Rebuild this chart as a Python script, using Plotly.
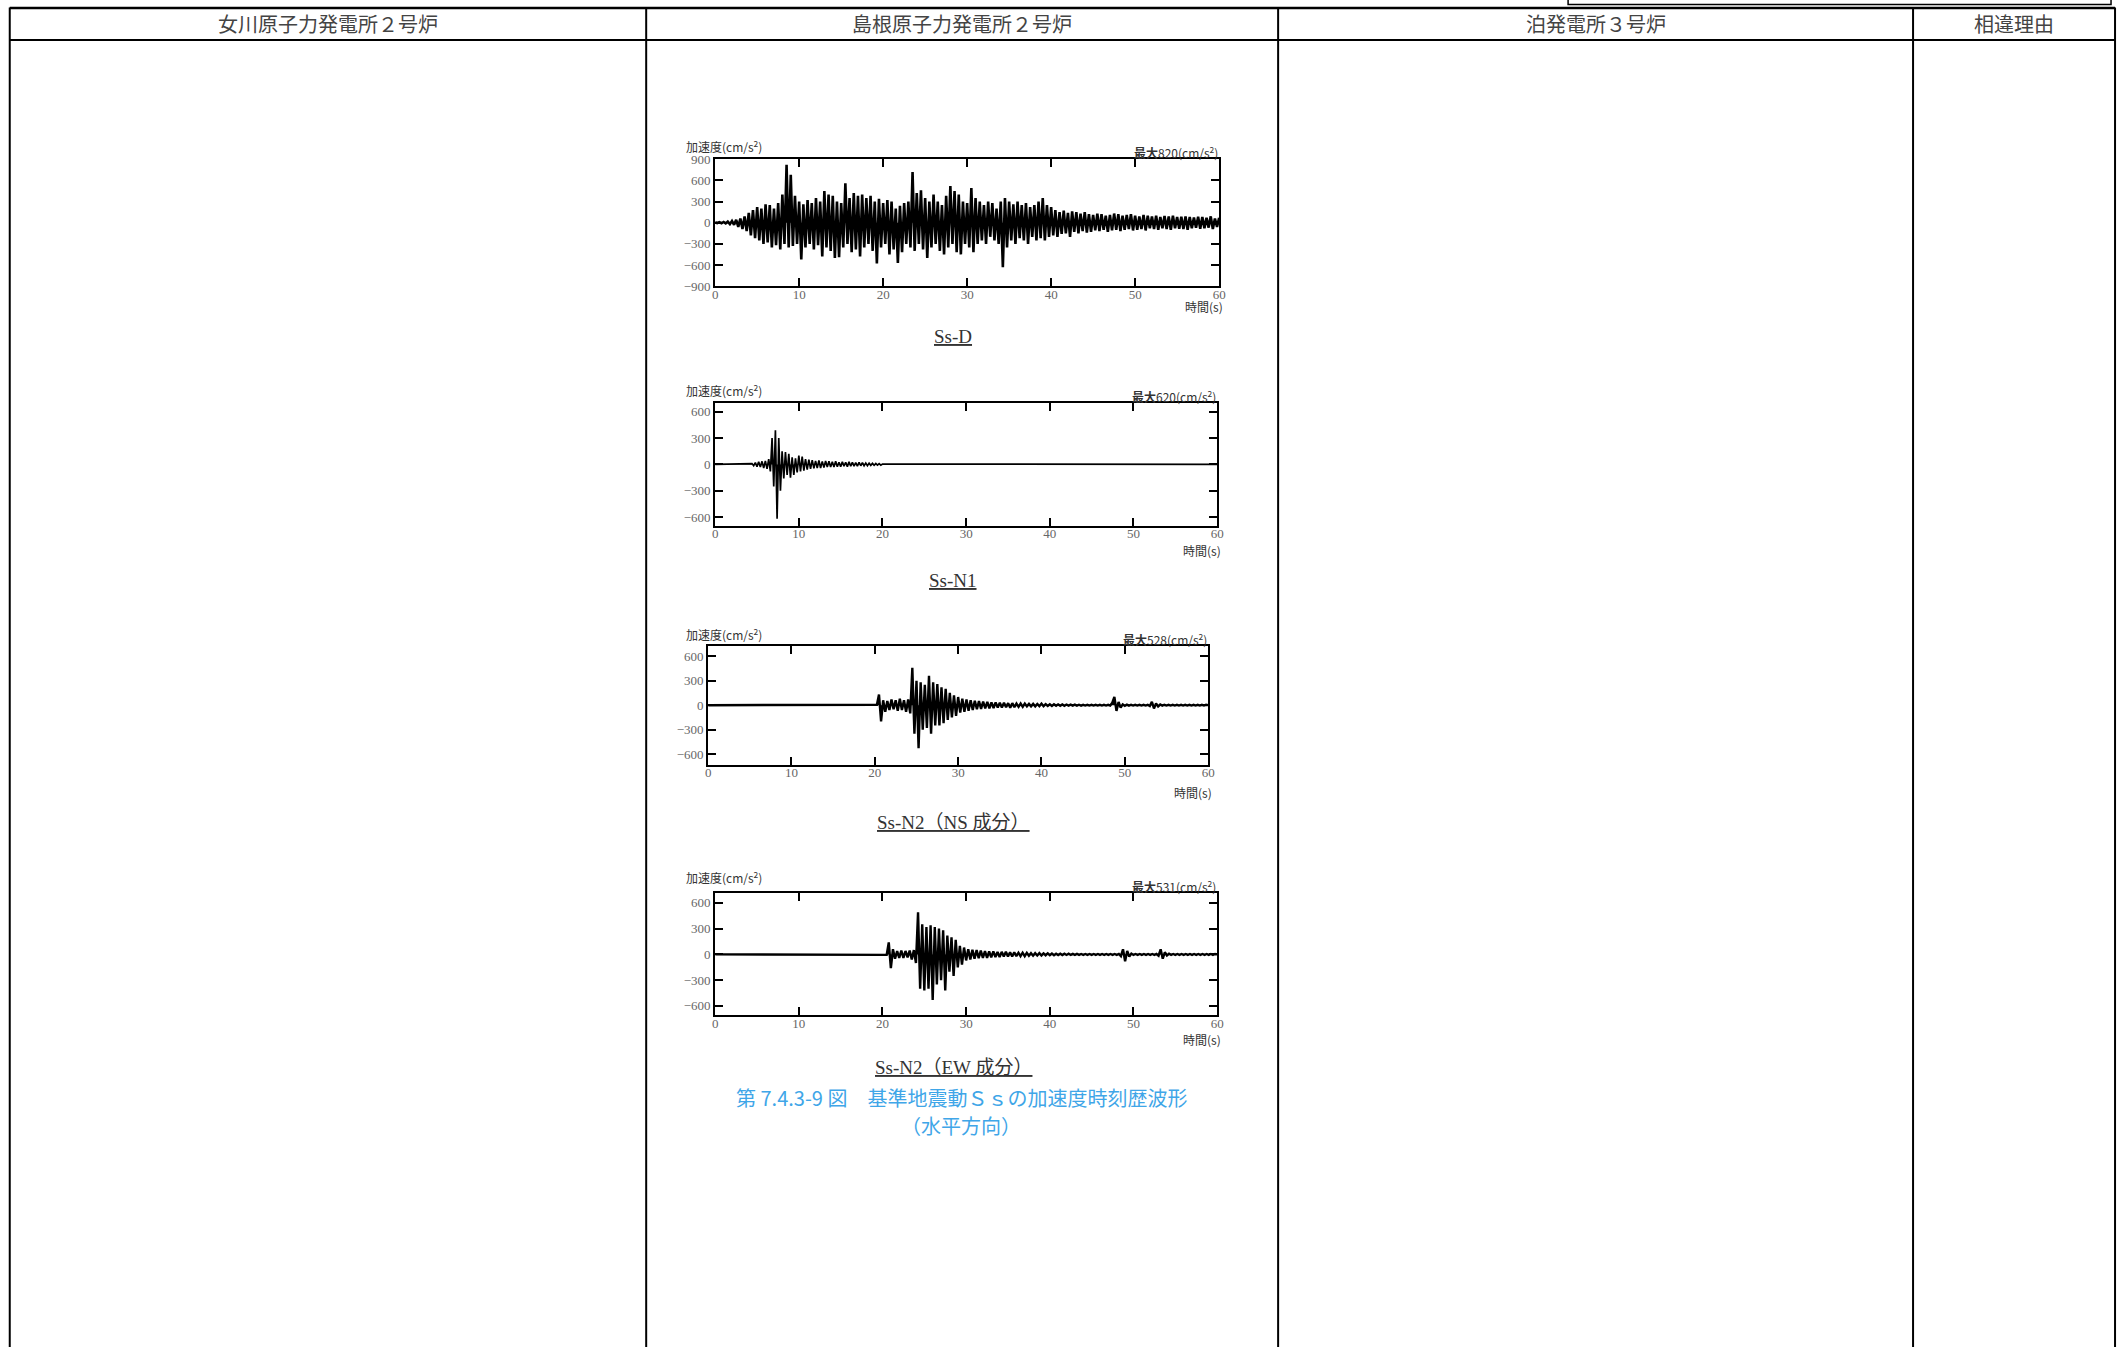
import plotly.graph_objects as go

W, H = 2123, 1347

# ---------------- data ----------------
column_headers = ["女川原子力発電所２号炉", "島根原子力発電所２号炉", "泊発電所３号炉", "相違理由"]

x_ticks = [0, 10, 20, 30, 40, 50, 60]

# Ss-D : positive peaks every 0.5 s (t = 0 .. 60), negative peaks in between (t = 0.25 .. 59.75)
ssd_step = 0.5
ssd_pos = [
    5, 8, 10, 15, 25, 40, 60, 90, 140, 180,
    220, 200, 260, 250, 200, 280, 400, 820, 680, 380,
    300, 260, 320, 280, 350, 300, 450, 400, 380, 300,
    280, 560, 350, 420, 380, 400, 350, 380, 300, 340,
    280, 320, 300, 200, 240, 280, 300, 720, 420, 460,
    350, 300, 400, 300, 250, 380, 520, 450, 400, 300,
    280, 490, 350, 300, 250, 300, 280, 200, 300, 350,
    300, 260, 300, 250, 280, 220, 250, 300, 350, 250,
    220, 180, 150, 170, 140, 160, 150, 130, 150, 120,
    110, 130, 120, 100, 110, 130, 120, 100, 110, 120,
    100, 90, 110, 100, 90, 100, 80, 95, 90, 100,
    80, 85, 90, 80, 75, 85, 80, 70, 90, 60,
    70,
]
ssd_neg = [
    -5, -8, -10, -20, -30, -60, -90, -120, -180, -220,
    -250, -300, -280, -350, -320, -380, -300, -350, -330, -300,
    -520, -350, -300, -380, -320, -480, -350, -400, -500, -490,
    -350, -300, -420, -380, -480, -350, -300, -400, -580, -350,
    -300, -450, -380, -570, -420, -300, -350, -400, -300, -380,
    -500, -350, -300, -400, -450, -350, -300, -420, -450, -300,
    -350, -420, -300, -250, -300, -200, -250, -300, -630, -350,
    -250, -300, -220, -250, -300, -200, -250, -220, -250, -200,
    -180, -200, -160, -150, -200, -130, -150, -120, -140, -130,
    -110, -120, -100, -130, -110, -100, -120, -100, -90, -110,
    -100, -90, -110, -80, -90, -100, -80, -90, -100, -80,
    -85, -90, -100, -80, -70, -85, -80, -70, -90, -60,
]

# Ss-N1 : samples every 0.2 s from 4.4 s to 20.0 s, zero elsewhere
ssn1_start, ssn1_step = 4.4, 0.2
ssn1_vals = [
    10, -15, 20, -25, 30, -30, 35, -40, 40, -50,
    60, -80, 300, -250, 390, -620, 300, -300, 150, -160,
    140, -120, 120, -150, 80, -120, 70, -90, 100, -80,
    90, -70, 60, -60, 55, -50, 50, -45, 40, -40,
    45, -40, 35, -35, 40, -30, 35, -30, 30, -30,
    35, -25, 25, -25, 30, -20, 25, -25, 30, -20,
    25, -20, 20, -20, 25, -15, 20, -15, 15, -15,
    15, -10, 12, -10, 10, -8, 10, -8, 5,
]

# Ss-N2 (NS) : samples every 0.25 s from 20 s to 60 s, zero before
ssn2ns_start, ssn2ns_step = 20.0, 0.25
ssn2ns_vals = [
    0, 5, 130, -200, 60, -80, 50, -60, 70, -50,
    60, -70, 80, -60, 60, -80, 70, -100, 460, -350,
    300, -528, 280, -300, 250, -280, 360, -350, 280, -250,
    260, -250, 220, -220, 200, -180, 150, -150, 120, -130,
    100, -90, 80, -80, 70, -70, 60, -60, 55, -50,
    50, -45, 45, -40, 40, -40, 35, -35, 35, -30,
    30, -30, 30, -25, 25, -30, 25, -25, 20, -20,
    20, -20, 20, -15, 15, -15, 15, -15, 15, -12,
    20, -12, 12, -10, 10, -10, 10, -8, 10, -8,
    8, -8, 8, -6, 6, -6, 6, -6, 6, -5,
    5, -5, 5, -5, 5, -5, 5, -5, 5, -5,
    5, -5, 5, -5, 30, 100, -70, 40, -30, 10,
    -8, 6, -6, 5, -5, 5, -5, 5, -5, 5,
    -5, 5, -10, 40, -40, 20, -15, 8, -6, 5,
    -5, 5, -5, 5, -5, 5, -5, 5, -5, 5,
    -5, 5, -5, 5, -5, 5, -5, 5, -5, 5,
    0,
]

# Ss-N2 (EW) : samples every 0.25 s from 20 s to 60 s, zero before
ssn2ew_start, ssn2ew_step = 20.0, 0.25
ssn2ew_vals = [
    0, 3, -5, 140, -160, 60, -50, 40, -40, 45,
    -40, 40, -35, 45, -60, 50, -100, 490, -400, 350,
    -420, 320, -400, 340, -531, 320, -350, 300, -300, 280,
    -420, 220, -200, 200, -250, 170, -150, 100, -120, 80,
    -70, 60, -60, 55, -50, 50, -45, 45, -40, 40,
    -40, 35, -35, 35, -30, 30, -30, 30, -25, 30,
    -25, 25, -25, 25, -20, 20, -20, 20, -20, 18,
    -15, 15, -15, 15, -12, 15, -12, 12, -10, 12,
    -10, 10, -10, 8, -8, 8, -8, 8, -6, 8,
    -6, 6, -6, 6, -5, 5, -5, 5, -5, 5,
    -5, 5, -5, 5, -5, 5, -5, 5, -5, 5,
    -5, 5, -5, 5, -20, 60, -80, 40, -25, 10,
    -6, 5, -5, 5, -5, 5, -5, 5, -5, 5,
    -5, 5, -15, 60, -50, 25, -12, 8, -5, 5,
    -5, 5, -5, 5, -5, 5, -5, 5, -5, 5,
    -5, 5, -5, 5, -5, 5, -5, 5, -5, 5,
    0,
]

titles = ["Ss-D", "Ss-N1", "Ss-N2（NS 成分）", "Ss-N2（EW 成分）"]
max_values = [820, 620, 528, 531]
y_ticks = [[-900, -600, -300, 0, 300, 600, 900],
           [-600, -300, 0, 300, 600],
           [-600, -300, 0, 300, 600],
           [-600, -300, 0, 300, 600]]
y_ranges = [[-900, 900], [-700, 700], [-730, 730], [-710, 710]]
caption_1 = "第 7.4.3-9 図　基準地震動Ｓｓの加速度時刻歴波形"
caption_2 = "（水平方向）"

# ---------------- build series ----------------
def zig(pos, neg, step):
    xs, ys = [], []
    for i, p in enumerate(pos):
        xs.append(i * step); ys.append(p)
        if i < len(neg):
            xs.append(i * step + step / 2); ys.append(neg[i])
    return xs, ys

def seq(start, step, vals, t_end=60.0):
    xs = [0.0] + [start + i * step for i in range(len(vals))]
    ys = [0.0] + list(vals)
    if xs[-1] < t_end:
        xs.append(t_end); ys.append(0.0)
    return xs, ys

series = [
    zig(ssd_pos, ssd_neg, ssd_step),
    seq(ssn1_start, ssn1_step, ssn1_vals),
    seq(ssn2ns_start, ssn2ns_step, ssn2ns_vals),
    seq(ssn2ew_start, ssn2ew_step, ssn2ew_vals),
]
line_widths = [2.6, 1.7, 2.4, 2.4]

# ---------------- layout geometry (pixels, as seen in the page) ----------------
boxes = [  # x0, x1, y0(top), y1(bottom)
    (715, 1219, 159, 286),
    (715, 1217, 403, 526),
    (708, 1208, 646, 765),
    (715, 1217, 894, 1016),
]
acc_y = [146, 390, 634, 878]
max_y = [152, 396, 639, 887]
time_y = [306, 551, 793, 1040]
title_y = [336, 581, 823, 1068]

# the rendered page maps figure pixels slightly (scale + offset); compensate
AX, BX = 0.99539, 2.75
AY, BY = 0.98993, 6.57

def fx(px):
    return ((px - BX) / AX) / W

def fy(py):
    return 1 - ((py - BY) / AY) / H

fig = go.Figure()
layout = dict(
    width=W, height=H, margin=dict(l=0, r=0, t=0, b=0),
    paper_bgcolor="white", plot_bgcolor="white", showlegend=False,
)

tick_font = dict(family="Liberation Serif, DejaVu Serif", size=13, color="#666")
annotations = []
for i, ((xs, ys), (x0, x1, y0, y1)) in enumerate(zip(series, boxes)):
    n = "" if i == 0 else str(i + 1)
    xa, ya = "x" + n, "y" + n
    fig.add_trace(go.Scatter(x=xs, y=ys, mode="lines", fill="tozeroy", fillcolor="black",
                             line=dict(color="black", width=line_widths[i]),
                             xaxis=xa, yaxis=ya, hoverinfo="skip"))
    layout["xaxis" + n] = dict(
        domain=[fx(x0), fx(x1)], range=[0, 60], anchor=ya,
        tickvals=x_ticks, ticks="inside", ticklen=8, tickwidth=2, tickcolor="black",
        showline=True, linewidth=2, linecolor="black", mirror="ticks",
        showgrid=False, zeroline=False, tickfont=tick_font, fixedrange=True,
        ticklabelstandoff=-5,
    )
    layout["yaxis" + n] = dict(
        domain=[fy(y1), fy(y0)], range=y_ranges[i], anchor=xa,
        tickvals=y_ticks[i], ticktext=[("−" + str(-v)) if v < 0 else str(v) for v in y_ticks[i]],
        ticks="inside", ticklen=8, tickwidth=2, tickcolor="black",
        showline=True, linewidth=2, linecolor="black", mirror="ticks",
        showgrid=False, zeroline=False, tickfont=tick_font, fixedrange=True,
    )
    small = dict(family="Noto Sans CJK JP", size=12, color="#333")
    annotations.append(dict(text="加速度(cm/s<sup>2</sup>)", x=fx(684), y=fy(acc_y[i]),
                            xref="paper", yref="paper", xanchor="left", yanchor="middle",
                            showarrow=False, font=small))
    annotations.append(dict(text="<b>最大</b>%d(cm/s<sup>2</sup>)" % max_values[i],
                            x=fx(x1 + 1), y=fy(max_y[i]),
                            xref="paper", yref="paper", xanchor="right", yanchor="middle",
                            showarrow=False, font=small))
    annotations.append(dict(text="時間(s)", x=fx(x1 + 6), y=fy(time_y[i]),
                            xref="paper", yref="paper", xanchor="right", yanchor="middle",
                            showarrow=False, font=small))
    annotations.append(dict(text="<u>" + titles[i] + "</u>", x=fx(953), y=fy(title_y[i]),
                            xref="paper", yref="paper", xanchor="center", yanchor="middle",
                            showarrow=False,
                            font=dict(family="Liberation Serif, Noto Sans CJK JP", size=19, color="#333")))

cap_font = dict(family="Noto Sans CJK JP", size=20, color="#3fa6e8")
annotations.append(dict(text=caption_1, x=fx(961), y=fy(1098), xref="paper", yref="paper",
                        xanchor="center", yanchor="middle", showarrow=False, font=cap_font))
annotations.append(dict(text=caption_2, x=fx(961), y=fy(1126), xref="paper", yref="paper",
                        xanchor="center", yanchor="middle", showarrow=False, font=cap_font))

# table
col_x = [9.5, 646, 1278, 1913, 2115]
head_font = dict(family="Noto Sans CJK JP", size=20, color="#444")
for k, name in enumerate(column_headers):
    annotations.append(dict(text=name, x=fx((col_x[k] + col_x[k + 1]) / 2), y=fy(23),
                            xref="paper", yref="paper", xanchor="center", yanchor="middle",
                            showarrow=False, font=head_font))

shapes = []
line_style = dict(color="black", width=2)
for cx in col_x:
    shapes.append(dict(type="line", xref="paper", yref="paper",
                       x0=fx(cx), x1=fx(cx), y0=fy(7), y1=fy(H + 12), line=line_style))
for hy, w in [(7.5, 2.5), (39.5, 2)]:
    shapes.append(dict(type="line", xref="paper", yref="paper",
                       x0=fx(col_x[0]), x1=fx(col_x[-1]), y0=fy(hy), y1=fy(hy),
                       line=dict(color="black", width=w)))
shapes.append(dict(type="rect", xref="paper", yref="paper",
                   x0=fx(1568), x1=fx(2111), y0=fy(4), y1=fy(-10),
                   line=dict(color="black", width=1.5)))

layout["annotations"] = annotations
layout["shapes"] = shapes
fig.update_layout(**layout)
fig.write_html(
    "out.html",
    config={"displayModeBar": False},
    post_script="document.body.style.margin='0px';document.body.style.overflow='hidden';",
)
